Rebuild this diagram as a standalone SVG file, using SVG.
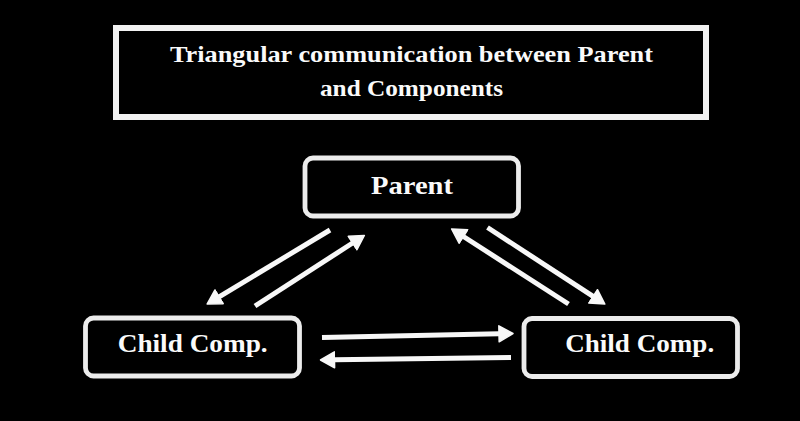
<svg xmlns="http://www.w3.org/2000/svg" width="800" height="421" viewBox="0 0 800 421">
<defs>
<style>
.bg{fill:#000}
.title{fill:none;stroke:#f2f2f2;stroke-width:6}
.box{fill:#000;stroke:#ececec;stroke-width:4.8}
.lbl{fill:#fafafa;font-family:"Liberation Serif","DejaVu Serif",serif;font-weight:bold;text-anchor:middle}
.arr{fill:none;stroke:#f8f8f8;stroke-width:5;stroke-linecap:butt;marker-end:url(#ah)}
</style>
<marker id="ah" viewBox="-1 -10 17 20" refX="0" refY="0" markerWidth="17" markerHeight="20" markerUnits="userSpaceOnUse" orient="auto">
<path d="M0,-8 L14,0 L0,8 Z" fill="#f8f8f8" stroke="#f8f8f8" stroke-width="1.5" stroke-linejoin="round"/>
</marker>
</defs>
<rect class="bg" x="0" y="0" width="800" height="421"/>
<g id="title">
<rect class="title" x="116" y="28" width="590" height="89"/>
<text class="lbl" x="411.5" y="62" font-size="23.5" textLength="483" lengthAdjust="spacingAndGlyphs">Triangular communication between Parent</text>
<text class="lbl" x="411.5" y="96" font-size="23.5" textLength="183" lengthAdjust="spacingAndGlyphs">and Components</text>
</g>
<g id="parent">
<rect class="box" x="305" y="158" width="213.5" height="58" rx="8"/>
<text class="lbl" x="412" y="194.3" font-size="26" textLength="82" lengthAdjust="spacingAndGlyphs">Parent</text>
</g>
<g id="child-left">
<rect class="box" x="85.5" y="318" width="214" height="58" rx="8"/>
<text class="lbl" x="192.7" y="352.3" font-size="25" textLength="150" lengthAdjust="spacingAndGlyphs">Child Comp.</text>
</g>
<g id="child-right">
<rect class="box" x="524" y="318.5" width="213.5" height="58" rx="8"/>
<text class="lbl" x="639.7" y="352.3" font-size="25" textLength="149" lengthAdjust="spacingAndGlyphs">Child Comp.</text>
</g>
<g id="connectors">
<path class="arr" d="M330,230 L219.1,296.8"/>
<path class="arr" d="M255,306 L352.6,243"/>
<path class="arr" d="M568.5,304 L463.4,236.5"/>
<path class="arr" d="M487.5,227.5 L593.1,296.4"/>
<path class="arr" d="M322,337.5 L499,333.8"/>
<path class="arr" d="M511,357.5 L334.5,359.8"/>
</g>
</svg>
